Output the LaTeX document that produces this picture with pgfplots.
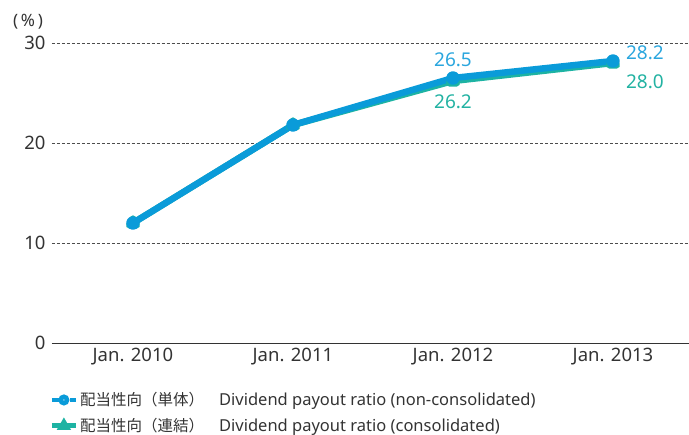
\documentclass[border=0pt]{standalone}
\usepackage{fontspec}
\setmainfont{Noto Sans}
\newfontfamily\cjk{Noto Sans CJK JP}
\usepackage{pgfplots}
\pgfplotsset{compat=1.18}
\definecolor{lblue}{HTML}{0A9BD9}
\definecolor{lteal}{HTML}{1DB3A3}
\definecolor{tblue}{HTML}{2AA6DE}
\definecolor{tteal}{HTML}{22B2A2}
\definecolor{txt}{HTML}{333333}
\begin{document}
\begin{tikzpicture}
\useasboundingbox (-52bp,-92bp) rectangle (637bp,343bp);
\begin{axis}[
  scale only axis, width=637bp, height=300bp,
  xmin=-0.506, xmax=3.475, ymin=0, ymax=30,
  separate axis lines,
  axis x line*=bottom, axis y line*=left,
  y axis line style={draw=none},
  x axis line style={txt, line width=0.8pt, -},
  major tick length=0pt,
  ymajorgrids, grid style={densely dashed, black!70, line width=0.6pt},
  xtick={0,1,2,3}, xticklabels={Jan. 2010,Jan. 2011,Jan. 2012,Jan. 2013},
  ytick={0,10,20,30},
  /pgf/number format/assume math mode=true,
  tick label style={font=\fontsize{18.5bp}{20bp}\selectfont, text=txt},
  yticklabel style={xshift=-3bp},
  xticklabel style={yshift=-2bp},
  clip=false,
  legend style={at={(rel axis cs:-0.004,-0.158)}, anchor=north west, draw=none, fill=none, inner sep=0pt,
     font=\fontsize{16.5bp}{18bp}\selectfont, text=txt, row sep=7bp, legend cell align=left},
  legend image code/.code={
     \draw[#1, mark=none] (0bp,0bp) -- (24bp,0bp);
     \draw[#1, only marks] plot coordinates {(12bp,0bp)};
  },
]
\addlegendimage{lblue, line width=4.5bp, dash pattern=on 7bp off 2bp, mark=*, mark size=3.2bp, mark options={solid, fill=white!75!tblue, draw=none}}
\addlegendentry{{\cjk\fontsize{15.5bp}{16bp}\selectfont 配当性向（単体）}\hspace{15bp}Dividend payout ratio (non-consolidated)}
\addlegendimage{lteal, line width=4.5bp, mark=triangle*, mark size=3.8bp, mark options={solid, fill=white!75!lteal, draw=none}}
\addlegendentry{{\cjk\fontsize{15.5bp}{16bp}\selectfont 配当性向（連結）}\hspace{15bp}Dividend payout ratio (consolidated)}

\addplot[forget plot, lteal, line width=6.5bp, line join=round, mark=triangle*, mark size=4.5bp, mark options={fill=white!75!lteal, draw=none}]
  coordinates {(0,12.0) (1,21.8) (2,26.2) (3,28.0)};
\addplot[forget plot, lblue, line width=6.5bp, line join=round, mark=*, mark size=3.6bp, mark options={fill=white!75!tblue, draw=none}]
  coordinates {(0,12.0) (1,21.8) (2,26.5) (3,28.2)};

\node[text=tblue, font=\fontsize{19bp}{20bp}\selectfont] at (axis cs:2,28.3) {26.5};
\node[text=tteal, font=\fontsize{19bp}{20bp}\selectfont] at (axis cs:2,24.1) {26.2};
\node[text=tblue, font=\fontsize{19bp}{20bp}\selectfont, anchor=west] at (axis cs:3.06,29.0) {28.2};
\node[text=tteal, font=\fontsize{19bp}{20bp}\selectfont, anchor=west] at (axis cs:3.06,26.1) {28.0};
\node[text=txt, font=\fontsize{17bp}{18bp}\selectfont] at ([xshift=-24bp, yshift=21bp]rel axis cs:0,1) {(\,\%\,)};
\end{axis}
\end{tikzpicture}
\end{document}
